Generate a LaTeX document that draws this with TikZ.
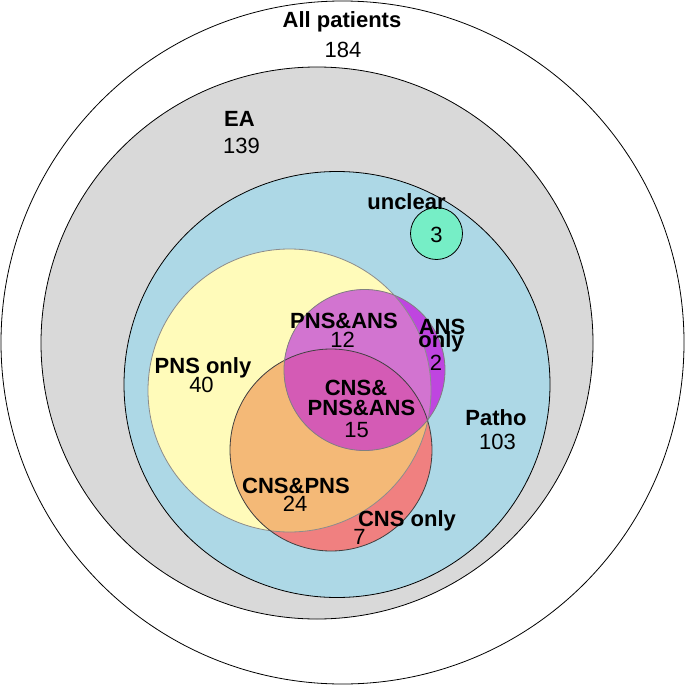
\documentclass[tikz,border=0pt]{standalone}
\usepackage{fontspec}
\setmainfont{Liberation Sans}
\usepackage{tikz}
\usetikzlibrary{positioning}

\definecolor{eagray}{HTML}{D9D9D9}
\definecolor{pathoblue}{HTML}{ADD8E6}
\definecolor{pnsyellow}{HTML}{FFFBBA}
\definecolor{cnsred}{HTML}{F08080}
\definecolor{cnspns}{HTML}{F4B977}
\definecolor{ansonly}{HTML}{BF45E0}
\definecolor{pnsans}{HTML}{D274D0}
\definecolor{tripleset}{HTML}{D45BB5}
\definecolor{unclearc}{HTML}{76EEC6}

\tikzset{
  lbl/.style={font=\fontsize{22}{24}\selectfont\bfseries, anchor=base, inner sep=0pt},
  num/.style={font=\fontsize{22}{24}\selectfont, anchor=base, inner sep=0pt},
  ring/.style={draw=black, line width=0.8pt}
}

\begin{document}
\begin{tikzpicture}[x=1pt,y=-1pt]
        \useasboundingbox (0,0) rectangle (685,685);
        % Centres of the sets
        \coordinate (allC) at (342.5,342.5);
        \coordinate (eaC) at (317,343);
        \coordinate (pathoC) at (337,384.5);
        \coordinate (pnsC) at (289.5,390.5);
        \coordinate (cnsC) at (331,450);
        \coordinate (ansC) at (364.5,370);
        \coordinate (uncC) at (436.5,233.5);
        % Nested circles
        \draw[ring, fill=white] (allC) circle[radius=341.5];
        \draw[ring, fill=eagray] (eaC) circle[radius=276];
        \draw[ring, fill=pathoblue] (pathoC) circle[radius=213];
        % Venn regions
        \fill[pnsyellow] (pnsC) circle[radius=141.5];
        \fill[cnsred] (cnsC) circle[radius=101];
        \begin{scope}
            \clip (pnsC) circle[radius=141.5];
            \fill[cnspns] (cnsC) circle[radius=101];
        \end{scope}
        \fill[ansonly] (ansC) circle[radius=80.5];
        \begin{scope}
            \clip (ansC) circle[radius=80.5];
            \fill[pnsans] (pnsC) circle[radius=141.5];
            \fill[tripleset] (cnsC) circle[radius=101];
        \end{scope}
        % Outlines
        \draw[black!45, line width=0.8pt] (pnsC) circle[radius=141.5];
        \draw[black!75, line width=0.8pt] (cnsC) circle[radius=101];
        \draw[black!50, line width=0.8pt] (ansC) circle[radius=80.5];
        \draw[ring, fill=unclearc] (uncC) circle[radius=26];
        % Labels
        \node[lbl] (allT) at (342,28) {All patients};
        \node[num] (allN) at (343,58) {184};
        \node[lbl] (eaT) at (239.5,126) {EA};
        \node[num] (eaN) at (241.5,153) {139};
        \node[lbl] (uncT) at (406.5,209) {unclear};
        \node[num] (uncN) at (436.5,242) {3};
        \node[lbl] (paT) at (344,328.5) {PNS\&ANS};
        \node[num] (paN) at (342.5,347) {12};
        \node[lbl] (ansT) at (442,334) {ANS};
        \node[lbl] (ansT2) at (441,347) {only};
        \node[num] (ansN) at (436,370) {2};
        \node[lbl] (pnsT) at (203,373.5) {PNS only};
        \node[num] (pnsN) at (201.5,392) {40};
        \node[lbl] (triT) at (356,395.5) {CNS\&};
        \node[lbl] (triT2) at (361.5,415) {PNS\&ANS};
        \node[num] (triN) at (356.5,437.5) {15};
        \node[lbl] (pathoT) at (496,425) {Patho};
        \node[num] (pathoN) at (497.5,449) {103};
        \node[lbl] (cpT) at (296,493.5) {CNS\&PNS};
        \node[num] (cpN) at (295,511) {24};
        \node[lbl] (cnsT) at (407,526) {CNS only};
        \node[num] (cnsN) at (359.5,544) {7};
    \end{tikzpicture}
\end{document}
